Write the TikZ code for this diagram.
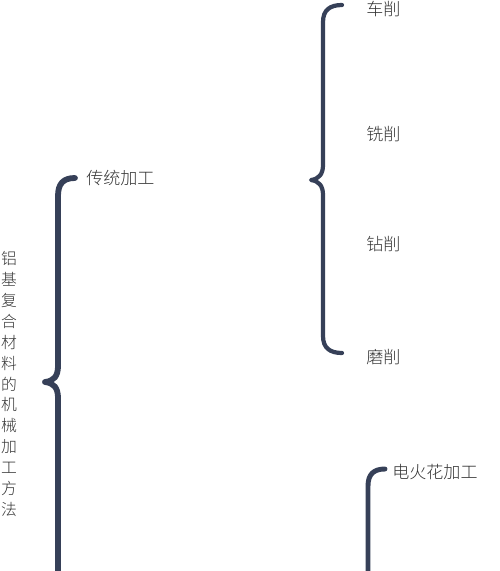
\documentclass[tikz,border=0pt]{standalone}
\usepackage{fontspec}
\newfontfamily\cjk{Noto Sans CJK SC Light}
\definecolor{braceblue}{RGB}{54,64,88}
\tikzset{
  brace/.style={draw=braceblue,line cap=round,line join=round},
  label/.style={anchor=west,inner sep=0pt,text=black!80,font=\cjk\fontsize{9.7}{11}\selectfont}
}
\begin{document}
\begin{tikzpicture}[x=0.02cm,y=-0.02cm]
    \useasboundingbox (0,0) rectangle (500,571);
    \begin{scope}
      % title, one character per line
      \node[inner sep=0pt,align=center,text=black!80,font=\cjk\fontsize{9}{11.9}\selectfont] (title) at (9,384)
        {铝\\基\\复\\合\\材\\料\\的\\机\\械\\加\\工\\方\\法};

      \node[label] (trad) at (86,178) {传统加工};
      \node[label] (turn)  at (366,9)   {车削};
      \node[label] (mill)  at (366,134) {铣削};
      \node[label] (drill) at (366,244) {钻削};
      \node[label] (grind) at (366,357) {磨削};
      \node[label] (edm)   at (392,472) {电火花加工};

      % big brace
      \draw[brace,line width=3.3pt] (75,178) .. controls (63,178) and (58,184) .. (58,196)
        -- (58,366) .. controls (58,376) and (54,381) .. (45,382)
        .. controls (54,383) and (58,388) .. (58,398) -- (58,590);
      % brace of the traditional methods
      \draw[brace,line width=2.4pt] (342,5) .. controls (330,5) and (323,10) .. (323,22)
        -- (323,165) .. controls (323,174) and (319,179) .. (311,180)
        .. controls (319,181) and (323,186) .. (323,195)
        -- (323,336) .. controls (323,348) and (330,353) .. (342,353);
      % brace of the special methods
      \draw[brace,line width=2.8pt] (385,469) .. controls (374,469) and (368,474) .. (368,486) -- (368,590);
    \end{scope}
\end{tikzpicture}
\end{document}
